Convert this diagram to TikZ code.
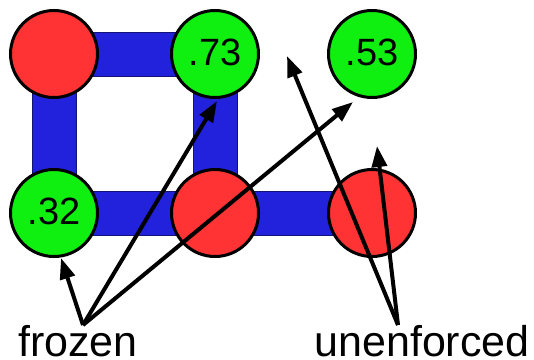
\documentclass[tikz,border=0pt]{standalone}
\usepackage{fontspec}
\setmainfont{Liberation Sans}
\usetikzlibrary{arrows.meta,backgrounds}
\definecolor{nodered}{RGB}{255,51,51}
\definecolor{nodegreen}{RGB}{16,240,16}
\definecolor{barblue}{RGB}{34,34,221}
\definecolor{bardark}{RGB}{20,20,120}
\tikzset{
  site/.style={circle, draw=black, line width=3pt, minimum size=87pt, inner sep=0pt,
               text depth=4pt, font=\fontsize{38}{38}\selectfont},
  hot/.style={site, fill=nodered},
  cool/.style={site, fill=nodegreen},
  bar/.style={line width=1pt, draw=bardark, double=barblue, double distance=43pt},
  pointer/.style={line width=4pt, -{Triangle[length=21pt,width=15pt]}},
  caption/.style={font=\fontsize{43}{43}\selectfont, anchor=base, inner sep=0pt, text depth=0pt}
}
\begin{document}
\begin{tikzpicture}[x=1pt,y=-1pt]
  \useasboundingbox (0,0) rectangle (534,359);
  % lattice sites
  \node[hot]  (tl) at (54,54) {};
  \node[cool] (tm) at (215,54) {.73};
  \node[cool] (tr) at (372,54) {.53};
  \node[cool] (bl) at (54,213) {.32};
  \node[hot]  (bm) at (215,213) {};
  \node[hot]  (br) at (372,213) {};
  % bonds between sites
  \begin{scope}[on background layer]
    \draw[bar] (tl.center) -- (tm.center);
    \draw[bar] (tl.center) -- (bl.center);
    \draw[bar] (tm.center) -- (bm.center);
    \draw[bar] (bl.center) -- (bm.center);
    \draw[bar] (bm.center) -- (br.center);
  \end{scope}
  % labels
  \node[caption] (frozen) at (78,356) {frozen};
  \node[caption] (unenf) at (422,356) {unenforced};
  \coordinate (fz) at (83,325);
  \coordinate (ue) at (398,325);
  \coordinate (free1) at (287,56);
  \coordinate (free2) at (377,146);
  % pointers
  \draw[pointer] (fz) -- (bl.south -| 61,0) ;
  \draw[pointer] (fz) -- (217,101);
  \draw[pointer] (fz) -- (353,102);
  \draw[pointer] (ue) -- (free1);
  \draw[pointer] (ue) -- (free2);
\end{tikzpicture}
\end{document}
